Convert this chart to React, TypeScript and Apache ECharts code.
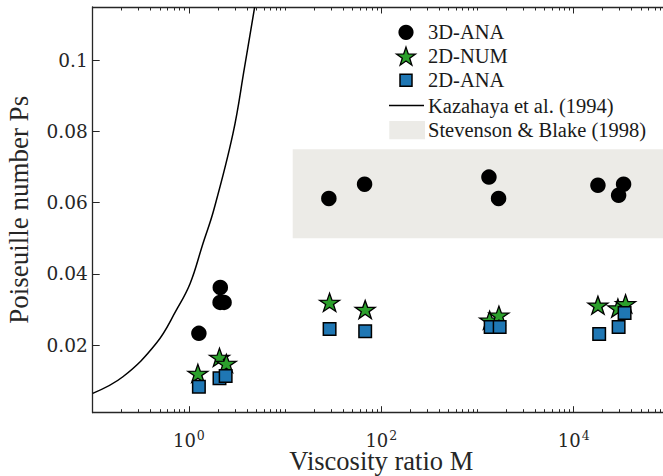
import React, { useEffect, useRef } from 'react';
import * as echarts from 'echarts';

// ---- data ----
const ana3dM = [1.27, 2.12, 2.11, 2.32, 28.5, 67, 1315, 1656, 17860, 29300, 33000];
const ana3dPs = [0.0233, 0.0362, 0.032, 0.032, 0.0612, 0.0652, 0.0672, 0.0612, 0.0649, 0.0621, 0.0652];

const num2dM = [1.24, 2.08, 2.45, 29, 68, 1337, 1670, 17860, 28800, 34600];
const num2dPs = [0.01205, 0.01654, 0.01485, 0.032, 0.03, 0.027, 0.0284, 0.0312, 0.0304, 0.0316];

const ana2dM = [1.27, 2.08, 2.41, 29, 68, 1370, 1700, 18400, 29300, 33800];
const ana2dPs = [0.0083, 0.01065, 0.0113, 0.0245, 0.0239, 0.0251, 0.0251, 0.0231, 0.0251, 0.029];

const kazM = [0.1, 0.206, 0.458, 0.74, 1.03, 1.398, 1.81, 2.87, 3.79, 4.82];
const kazPs = [0.00644, 0.0111, 0.0205, 0.0298, 0.0373, 0.0485, 0.0579, 0.0794, 0.0981, 0.1149];

const bandM = [12, 100000];
const bandPs = [0.05, 0.075];

const yTicks = [0.02, 0.04, 0.06, 0.08, 0.1];
const xLabelTicks = [1, 100, 10000];
const xRange = [0.1, 100000];
const yRange = [0.001, 0.115];

const legendNames = ['3D-ANA', '2D-NUM', '2D-ANA', 'Kazahaya et al. (1994)', 'Stevenson & Blake (1998)'];

// ---- styling helpers ----
const xMinorTicks: number[] = [];
for (let e = -1; e < 5; e++) {
  for (let k = 2; k <= 10; k++) {
    const v = Number((k * Math.pow(10, e)).toPrecision(6));
    if (!xLabelTicks.includes(v) && !xMinorTicks.includes(v)) xMinorTicks.push(v);
  }
}

function starPoints(cx: number, cy: number, R: number, r: number): number[][] {
  const pts: number[][] = [];
  for (let i = 0; i < 10; i++) {
    const a = -Math.PI / 2 + (i * Math.PI) / 5;
    const rad = i % 2 === 0 ? R : r;
    pts.push([cx + rad * Math.cos(a), cy + rad * Math.sin(a)]);
  }
  return pts;
}
const starPath =
  'path://' +
  starPoints(0, 0, 10, 3.9)
    .map((p, i) => (i === 0 ? 'M' : 'L') + p[0].toFixed(3) + ' ' + p[1].toFixed(3))
    .join(' ') +
  ' Z';

const AXIS = '#262626';
const GREEN = '#2ca02c';
const BLUE = '#1f77b4';
const BAND = '#ecebe7';
const TICKFONT = 'DejaVu Serif';
const TEXTFONT = 'Liberation Serif';

const zip = (a: number[], b: number[]) => a.map((v, i) => [v, b[i]]);

export default function App() {
  const ref = useRef<HTMLDivElement>(null);
  useEffect(() => {
    if (!ref.current) return;
    const chart = echarts.init(ref.current, undefined, { renderer: 'svg' });

    const baseX = {
      type: 'log' as const,
      logBase: 10,
      min: xRange[0],
      max: xRange[1],
      splitLine: { show: false },
      minorTick: { show: false },
    };

    const legendX = 406;
    const textX = 428;
    const rows = [32.3, 56.3, 80.3, 105.5, 130];

    chart.setOption({
      animation: false,
      grid: { left: 92.7, top: 7, width: 577.2, height: 405.7, outerBoundsMode: 'none', containLabel: false },
      xAxis: [
        {
          ...baseX,
          position: 'bottom',
          axisLine: { show: true, lineStyle: { color: AXIS, width: 1.3 } },
          axisTick: { show: true, inside: true, length: 3.5, customValues: xMinorTicks, lineStyle: { color: AXIS, width: 1 } },
          axisLabel: {
            show: true,
            customValues: xLabelTicks,
            margin: 16,
            formatter: (v: number) => `{b|10}{s|${Math.round(Math.log10(v))}}`,
            rich: {
              b: { fontFamily: TICKFONT, fontSize: 18, color: AXIS, lineHeight: 21, verticalAlign: 'bottom' },
              s: { fontFamily: TICKFONT, fontSize: 12.5, color: AXIS, lineHeight: 21, verticalAlign: 'top', padding: [0, 0, 0, 1] },
            },
          },
          name: 'Viscosity ratio M',
          nameLocation: 'middle',
          nameGap: 40,
          nameMoveOverlap: false,
          nameTextStyle: { fontFamily: TEXTFONT, fontSize: 26.5, lineHeight: 17, color: AXIS },
        },
        {
          ...baseX,
          position: 'bottom',
          axisLine: { show: false },
          axisTick: { show: true, inside: true, length: 6.5, customValues: xLabelTicks, lineStyle: { color: AXIS, width: 1 } },
          axisLabel: { show: false },
        },
        {
          ...baseX,
          position: 'top',
          axisLine: { show: true, lineStyle: { color: AXIS, width: 1.3 } },
          axisTick: { show: true, inside: true, length: 3.5, customValues: xMinorTicks, lineStyle: { color: AXIS, width: 1 } },
          axisLabel: { show: false },
        },
        {
          ...baseX,
          position: 'top',
          axisLine: { show: false },
          axisTick: { show: true, inside: true, length: 6.5, customValues: xLabelTicks, lineStyle: { color: AXIS, width: 1 } },
          axisLabel: { show: false },
        },
      ],
      yAxis: {
        type: 'value',
        min: yRange[0],
        max: yRange[1],
        splitLine: { show: false },
        axisLine: { show: true, lineStyle: { color: AXIS, width: 1.3 } },
        axisTick: { show: true, inside: true, length: 7, customValues: yTicks, lineStyle: { color: AXIS, width: 1 } },
        axisLabel: {
          customValues: yTicks,
          margin: 5,
          fontFamily: TICKFONT,
          fontSize: 18.5,
          color: AXIS,
          formatter: (v: number) => String(Number(v.toFixed(3))),
        },
        name: 'Poiseuille number Ps',
        nameLocation: 'middle',
        nameGap: 60,
        nameMoveOverlap: false,
        nameTextStyle: { fontFamily: TEXTFONT, fontSize: 27, color: AXIS },
      },
      series: [
        {
          name: legendNames[4],
          type: 'scatter',
          data: [],
          z: 0,
          silent: true,
          markArea: {
            silent: true,
            itemStyle: { color: BAND, opacity: 1 },
            data: [[{ xAxis: bandM[0], yAxis: bandPs[0] }, { xAxis: bandM[1], yAxis: bandPs[1] }]],
          },
        },
        {
          name: legendNames[0],
          type: 'scatter',
          z: 3,
          symbol: 'circle',
          symbolSize: 15.5,
          itemStyle: { color: '#000', opacity: 1 },
          data: zip(ana3dM, ana3dPs),
        },
        {
          name: legendNames[1],
          type: 'scatter',
          z: 4,
          symbol: starPath,
          symbolKeepAspect: true,
          symbolSize: [20, 19],
          itemStyle: { color: GREEN, borderColor: '#000', borderWidth: 1.3, opacity: 1 },
          data: zip(num2dM, num2dPs),
        },
        {
          name: legendNames[2],
          type: 'scatter',
          z: 5,
          symbol: 'rect',
          symbolSize: 12.5,
          itemStyle: { color: BLUE, borderColor: '#000', borderWidth: 1.5, opacity: 1 },
          data: zip(ana2dM, ana2dPs),
        },
        {
          name: legendNames[3],
          type: 'line',
          z: 6,
          smooth: 0.4,
          symbol: 'none',
          clip: true,
          lineStyle: { color: '#000', width: 1.5 },
          data: zip(kazM, kazPs),
        },
      ],
      graphic: [
        { type: 'circle', shape: { cx: legendX, cy: rows[0], r: 7.6 }, style: { fill: '#000' } },
        {
          type: 'polygon',
          shape: { points: starPoints(legendX, rows[1] + 0.8, 10, 3.9) },
          style: { fill: GREEN, stroke: '#000', lineWidth: 1.3 },
        },
        { type: 'rect', shape: { x: legendX - 6, y: rows[2] - 6, width: 12, height: 12 }, style: { fill: BLUE, stroke: '#000', lineWidth: 1.5 } },
        { type: 'line', shape: { x1: 389, y1: rows[3], x2: 424, y2: rows[3] }, style: { stroke: '#000', lineWidth: 1.5 } },
        { type: 'rect', shape: { x: 389.3, y: 121, width: 35.7, height: 18.3 }, style: { fill: BAND } },
        ...legendNames.map((t, i) => ({
          type: 'text',
          x: textX,
          y: rows[i],
          style: { text: t, fontFamily: TEXTFONT, fontSize: 20.5, fill: '#1a1a1a', verticalAlign: 'middle', align: 'left' },
        })),
      ],
    });
    return () => chart.dispose();
  }, []);
  return <div ref={ref} style={{ position: 'absolute', left: 0, top: 0, width: 663, height: 476 }} />;
}
